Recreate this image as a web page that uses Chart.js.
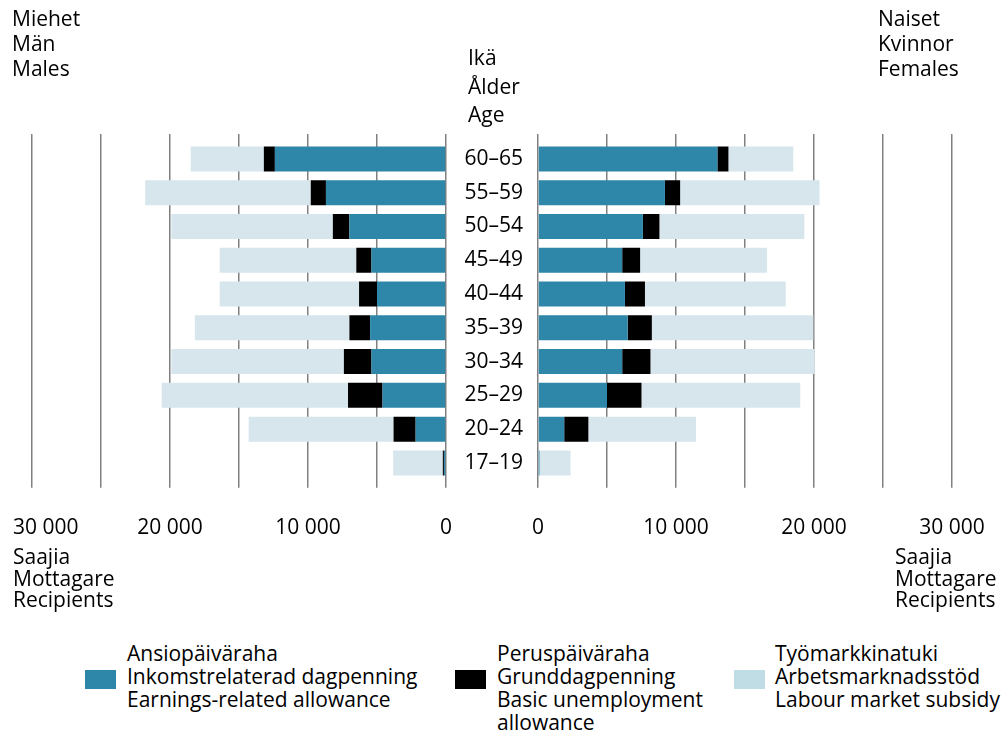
<!DOCTYPE html>
<html>
<head>
<meta charset="utf-8">
<script src="https://cdn.jsdelivr.net/npm/chart.js@4.4.1/dist/chart.umd.min.js"></script>
<style>
	body { margin: 0; width: 1001px; height: 736px; background: #fff; position: relative; overflow: hidden;
		font-family: 'Open Sans', sans-serif; font-size: 21px; color: #000; }
	canvas { position: absolute; top: 0; }
	.txt { position: absolute; white-space: nowrap; }
	.sw { position: absolute; width: 31px; height: 19px; top: 670px; }
</style>
</head>
<body>
<canvas id="graph-men" width="532" height="576" style="left:-50px"></canvas>
<canvas id="graph-women" width="569" height="576" style="left:446px"></canvas>

<div class="txt" style="left:12px; top:6px; line-height:25px">Miehet<br>Män<br>Males</div>
<div class="txt" style="left:468px; top:43px; line-height:28.5px">Ikä<br>Ålder<br>Age</div>
<div class="txt" style="left:878px; top:6px; line-height:25px">Naiset<br>Kvinnor<br>Females</div>
<div class="txt" style="left:13px; top:546px; line-height:21.5px">Saajia<br>Mottagare<br>Recipients</div>
<div class="txt" style="left:895px; top:546px; line-height:21.5px">Saajia<br>Mottagare<br>Recipients</div>

<div class="sw" style="left:85px; background:#2e86a8"></div>
<div class="txt" style="left:127px; top:642px; line-height:23px">Ansiopäiväraha<br>Inkomstrelaterad dagpenning<br>Earnings-related allowance</div>
<div class="sw" style="left:455px; background:#000"></div>
<div class="txt" style="left:497px; top:642px; line-height:23px">Peruspäiväraha<br>Grunddagpenning<br>Basic unemployment<br>allowance</div>
<div class="sw" style="left:734px; background:#c0dce4"></div>
<div class="txt" style="left:775px; top:642px; line-height:23px">Työmarkkinatuki<br>Arbetsmarknadsstöd<br>Labour market subsidy</div>

<script>
const ageGroups = ['60–65', '55–59', '50–54', '45–49', '40–44', '35–39', '30–34', '25–29', '20–24', '17–19'];

// Miehet / Males
const menEarnings = [12400, 8700, 7000, 5400, 5000, 5500, 5400, 4600, 2200, 150];
const menBasic = [800, 1100, 1200, 1100, 1300, 1500, 2000, 2500, 1600, 80];
const menLabour = [5300, 12000, 11700, 9900, 10100, 11200, 12500, 13500, 10500, 3600];

// Naiset / Females
const womenEarnings = [13000, 9200, 7600, 6100, 6300, 6500, 6100, 5000, 1900, 110];
const womenBasic = [800, 1100, 1200, 1300, 1450, 1750, 2050, 2500, 1750, 0];
const womenLabour = [4700, 10100, 10500, 9200, 10200, 11700, 11900, 11500, 7800, 2250];

const axisMax = 30000;
const axisStep = 5000;

Chart.defaults.font.family = "'Open Sans', sans-serif";
Chart.defaults.font.size = 21;
Chart.defaults.color = '#000';

function formatTick(value) {
	if (value % 10000 !== 0) return '';
	return String(value).replace(/\B(?=(\d{3})+(?!\d))/g, ' ');
}

function makeDatasets(earnings, basic, labour) {
	return [
		{ label: 'Ansiopäiväraha', data: earnings, backgroundColor: '#2e86a8', borderWidth: 0 },
		{ label: 'Peruspäiväraha', data: basic, backgroundColor: '#000000', borderWidth: 0 },
		{ label: 'Työmarkkinatuki', data: labour, backgroundColor: '#d6e6ec', borderWidth: 0 },
	];
}

function makeOptions(reverse, showAges, padLeft, padRight) {
	return {
		indexAxis: 'y',
		responsive: false,
		animation: false,
		barPercentage: 0.74,
		categoryPercentage: 1,
		layout: { padding: { top: 134, bottom: 7, left: padLeft, right: padRight } },
		scales: {
			x: {
				type: 'linear', position: 'bottom', stacked: true, reverse: reverse,
				min: 0, max: axisMax,
				grid: { color: '#808080', lineWidth: 1.5, tickLength: 8 },
				border: { display: false },
				ticks: {
					stepSize: axisStep, padding: 28, maxRotation: 0, autoSkip: false,
					callback: function (value) {
						const label = formatTick(value);
						// outer left label sits a bit inwards in the original
						if (reverse && value === axisMax) return '\u2007\u2007\u2009' + label;
						return label;
					}
				}
			},
			xTop: {
				type: 'linear', position: 'top', reverse: reverse,
				min: 0, max: axisMax,
				grid: { color: '#808080', lineWidth: 1.5, tickLength: 8, drawOnChartArea: false },
				border: { display: false },
				ticks: { display: false, stepSize: axisStep }
			},
			y: {
				type: 'category', stacked: true, display: showAges,
				grid: { display: false, drawTicks: false },
				border: { display: false },
				ticks: { padding: 15 },
				afterFit: function (scale) { if (showAges) scale.width = 92; }
			}
		},
		plugins: {
			legend: { display: false },
			tooltip: { enabled: false }
		}
	};
}

const ctxMen = document.getElementById('graph-men');
const chartMen = new Chart(ctxMen, {
	type: 'bar',
	data: { labels: ageGroups, datasets: makeDatasets(menEarnings, menBasic, menLabour) },
	options: makeOptions(true, false, 82, 36)
});

const ctxWomen = document.getElementById('graph-women');
const chartWomen = new Chart(ctxWomen, {
	type: 'bar',
	data: { labels: ageGroups, datasets: makeDatasets(womenEarnings, womenBasic, womenLabour) },
	options: makeOptions(false, true, 0, 63)
});
</script>
</body>
</html>
